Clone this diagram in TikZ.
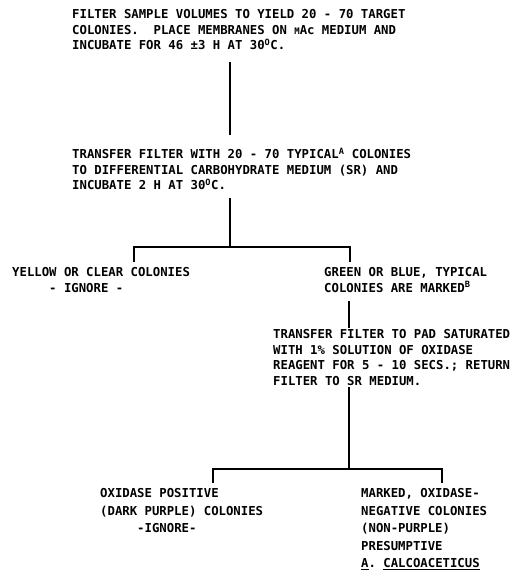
\documentclass[tikz,border=0pt]{standalone}
\usepackage{fontspec}
\setmonofont{DejaVu Sans Mono}
\newcommand{\flowfont}{\ttfamily\bfseries\fontsize{12.3pt}{15.7pt}\selectfont}
\newcommand{\smallM}{{\fontsize{9pt}{9pt}\selectfont M}}
\newcommand{\ind}{\phantom{XXXXX}}
\begin{document}
\begin{tikzpicture}[x=1pt,y=-1pt,
  txt/.style={anchor=base west,align=left,inner sep=0pt,font=\flowfont},
  txtb/.style={txt,font=\ttfamily\bfseries\fontsize{12.3pt}{17.5pt}\selectfont},
  conn/.style={line width=1.8pt}]
\useasboundingbox (0,0) rectangle (520,576);
\fill[white] (0,0) rectangle (520,576);
% node positions are the baseline of the LAST line
\node[txt] (b1) at (72,49.9) {FILTER SAMPLE VOLUMES TO YIELD 20 - 70 TARGET\\COLONIES.~~PLACE MEMBRANES ON \smallM Ac MEDIUM AND\\INCUBATE FOR 46 ±3 H AT 30\textsuperscript{O}C.};
\node[txt] (b2) at (72,189.9) {TRANSFER FILTER WITH 20 - 70 TYPICAL\textsuperscript{A} COLONIES\\TO DIFFERENTIAL CARBOHYDRATE MEDIUM (SR) AND\\INCUBATE 2 H AT 30\textsuperscript{O}C.};
\node[txt] (b3) at (12,292.2) {YELLOW OR CLEAR COLONIES\\\ind - IGNORE -};
\node[txt] (b4) at (324,292.2) {GREEN OR BLUE, TYPICAL\\COLONIES ARE MARKED\textsuperscript{B}};
\node[txt] (b5) at (273,385.6) {TRANSFER FILTER TO PAD SATURATED\\WITH 1\% SOLUTION OF OXIDASE\\REAGENT FOR 5 - 10 SECS.; RETURN\\FILTER TO SR MEDIUM.};
\node[txtb] (b6) at (100,532.5) {OXIDASE POSITIVE\\(DARK PURPLE) COLONIES\\\ind -IGNORE-};
\node[txtb] (b7) at (361,567.5) {MARKED, OXIDASE-\\NEGATIVE COLONIES\\(NON-PURPLE)\\PRESUMPTIVE\\\underline{A}. \underline{CALCOACETICUS}};
% junction coordinates
\coordinate (v1a) at (230,62);
\coordinate (v1b) at (230,135);
\coordinate (v2a) at (230,198);
\coordinate (j1) at (230,247);
\coordinate (l1) at (134,247);
\coordinate (r1) at (350,247);
\coordinate (l1d) at (134,262);
\coordinate (r1d) at (350,262);
\coordinate (v3a) at (349,301);
\coordinate (v3b) at (349,328);
\coordinate (v4a) at (349,387);
\coordinate (j2) at (349,469);
\coordinate (l2) at (213,469);
\coordinate (r2) at (442,469);
\coordinate (l2d) at (213,483);
\coordinate (r2d) at (442,483);
\draw[conn] (v1a) -- (v1b);
\draw[conn] (v2a) -- (j1);
\draw[conn] (l1d) -- (l1) -- (r1) -- (r1d);
\draw[conn] (v3a) -- (v3b);
\draw[conn] (v4a) -- (j2);
\draw[conn] (l2d) -- (l2) -- (r2) -- (r2d);
\end{tikzpicture}
\end{document}
